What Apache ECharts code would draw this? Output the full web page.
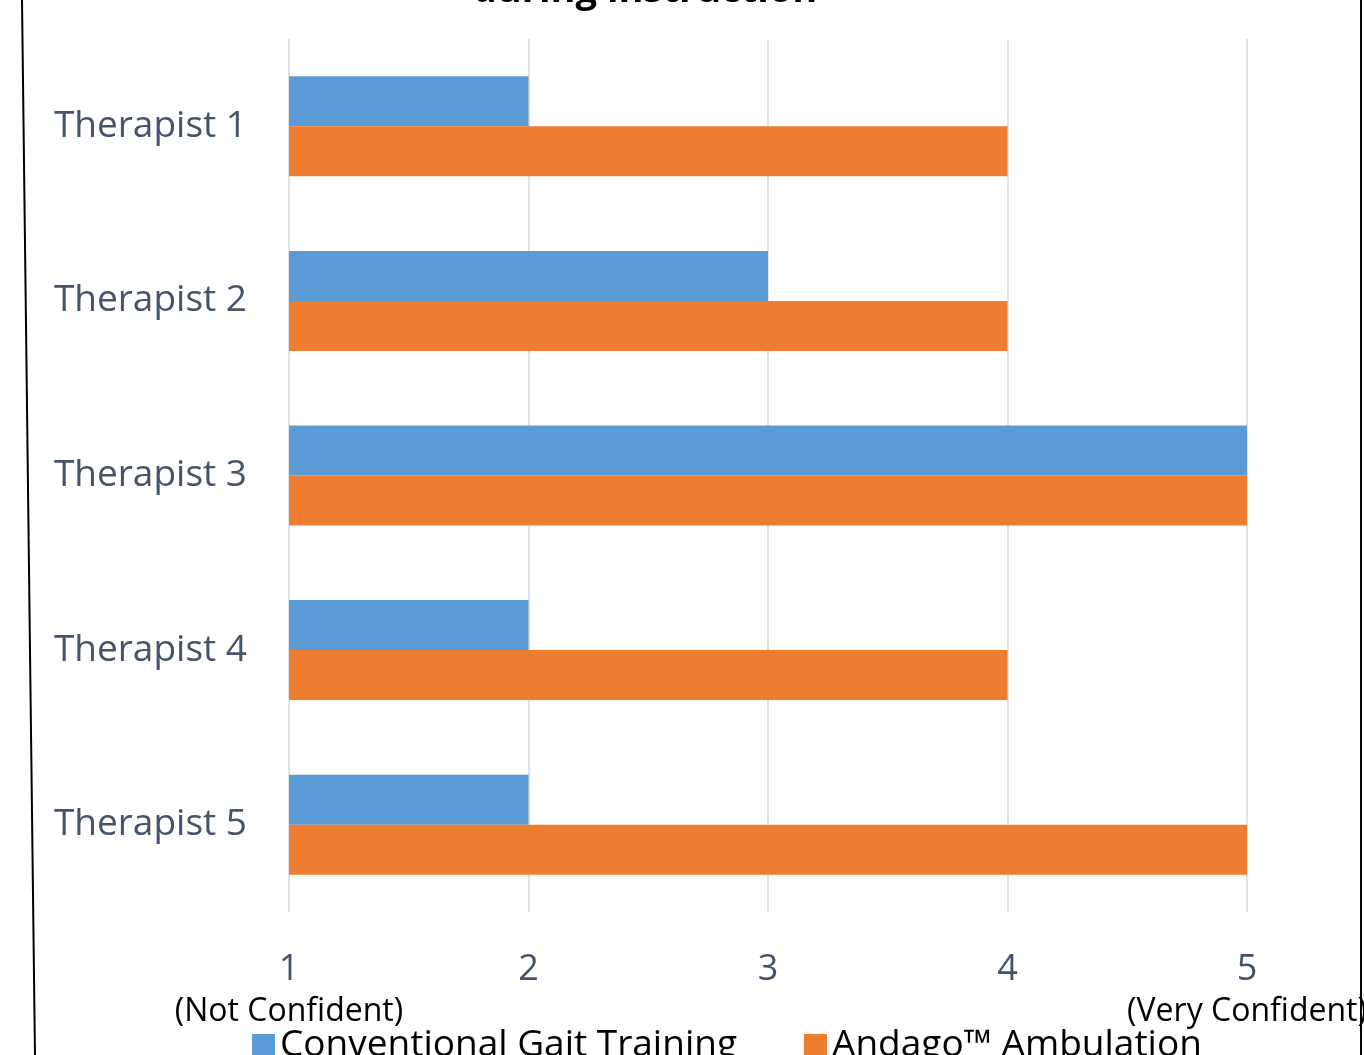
<!DOCTYPE html>
<html><head><meta charset="utf-8">
<script src="https://cdn.jsdelivr.net/npm/echarts@6/dist/echarts.min.js"></script>
<style>html,body{margin:0;padding:0;background:#fff}#c{width:1364px;height:1055px}</style>
</head><body><div id="c"></div>
<script>
var categories = ['Therapist 1','Therapist 2','Therapist 3','Therapist 4','Therapist 5'];
var seriesNames = ['Conventional Gait Training','Andago\u2122 Ambulation'];
var conventional = [2,3,5,2,2];
var andago = [4,4,5,4,5];
var tickSub = {1:'(Not Confident)',5:'(Very Confident)'};
var titleText = 'during instruction';
var FONT = '"Open Sans",sans-serif';
var chart = echarts.init(document.getElementById('c'));
chart.setOption({
  animation:false,
  textStyle:{fontFamily:FONT},
  graphic:[
    {type:'text',style:{x:645,y:10,text:titleText,font:'bold 38px '+FONT,fill:'#000',textAlign:'center',textVerticalAlign:'bottom'}},
    {type:'line',shape:{x1:22,y1:0,x2:35,y2:1055},style:{stroke:'#000',lineWidth:2}},
    {type:'line',shape:{x1:1361,y1:0,x2:1361,y2:1055},style:{stroke:'#000',lineWidth:2},z:100}
  ],
  grid:{left:289,right:1364-1247,top:39,bottom:143,containLabel:false,outerBoundsMode:'none'},
  legend:{bottom:-14,left:247,itemWidth:23,itemHeight:23,itemGap:67,icon:'rect',
    textStyle:{fontSize:37,color:'#000',fontFamily:FONT},data:seriesNames},
  xAxis:{type:'value',min:1,max:5,interval:1,
    axisLine:{show:false},axisTick:{show:false},
    splitLine:{lineStyle:{color:'#D9D9D9',width:1.5}},
    axisLabel:{margin:36,formatter:function(v){return tickSub[v]?'{n|'+v+'}\n{s|'+tickSub[v]+'}':'{n|'+v+'}\n{s| }';},
      rich:{n:{fontSize:36,color:'#44546A',fontFamily:FONT,lineHeight:44},s:{fontSize:32,color:'#000',fontFamily:FONT,lineHeight:40}}}},
  yAxis:{type:'category',inverse:true,data:categories,
    axisLine:{show:false},axisTick:{show:false},
    axisLabel:{fontSize:37,color:'#44546A',margin:42,fontFamily:FONT}},
  series:[
    {name:seriesNames[0],type:'bar',data:conventional,barWidth:50,barGap:'0%',itemStyle:{color:'#5B9BD5'}},
    {name:seriesNames[1],type:'bar',data:andago,barWidth:50,barGap:'0%',itemStyle:{color:'#ED7D31'}}
  ]
});
</script></body></html>
